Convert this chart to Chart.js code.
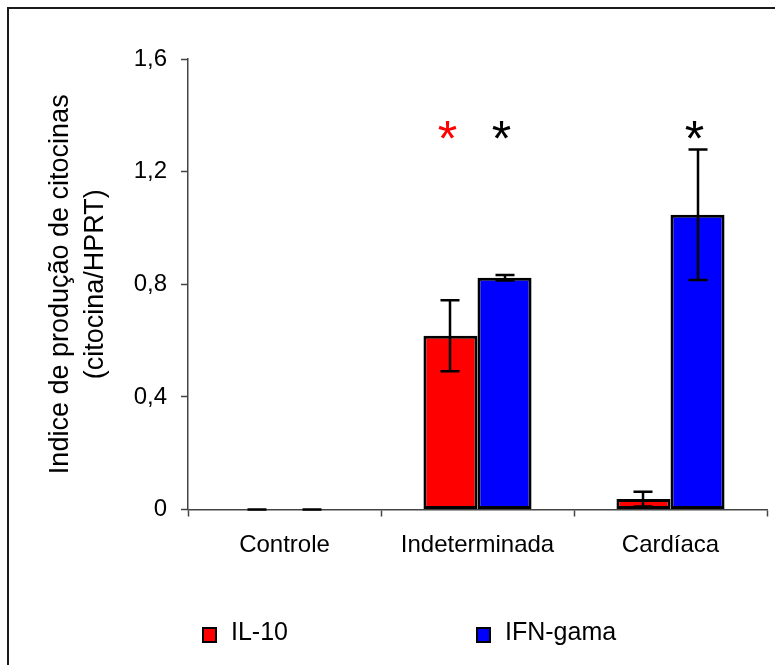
<!DOCTYPE html>
<html>
<head>
<meta charset="utf-8">
<script src="https://cdn.jsdelivr.net/npm/chart.js@4/dist/chart.umd.min.js"></script>
<style>
  html, body { margin: 0; padding: 0; background: #ffffff; }
  #wrap { position: relative; width: 775px; height: 665px; }
</style>
</head>
<body>
<div id="wrap"><canvas id="chart" width="775" height="665"></canvas></div>
<script>
// Cytokine production index (cytokine/HPRT) by clinical group
const categories = ['Controle', 'Indeterminada', 'Cardíaca'];
const il10Values = [0, 0.617, 0.037];
const il10Errors = [0, 0.126, 0.026];
const ifnValues = [0, 0.823, 1.047];
const ifnErrors = [0, 0.01, 0.232];
const yTickValues = [0, 0.4, 0.8, 1.2, 1.6];
// significance markers: [dataset index, category index, colour]
const significance = [[0, 1, '#ff0000'], [1, 1, '#000000'], [1, 2, '#000000']];
const markerLevel = 1.35;

const FONT = "'Liberation Sans', Arial, sans-serif";

// thin frame along the top and left edges of the figure
const framePlugin = {
  id: 'frame',
  beforeDraw(chart) {
    const ctx = chart.ctx;
    ctx.save();
    ctx.strokeStyle = '#1a1a1a';
    ctx.lineWidth = 2;
    ctx.beginPath();
    ctx.moveTo(8, chart.height);
    ctx.lineTo(8, 8);
    ctx.lineTo(chart.width, 8);
    ctx.stroke();
    ctx.restore();
  }
};

// error bars with caps, centred on each bar
const errorBarPlugin = {
  id: 'errorBars',
  afterDatasetsDraw(chart) {
    const ctx = chart.ctx;
    const yScale = chart.scales.y;
    ctx.save();
    ctx.strokeStyle = '#000000';
    ctx.lineWidth = 2.5;
    chart.data.datasets.forEach((ds, di) => {
      const meta = chart.getDatasetMeta(di);
      meta.data.forEach((bar, i) => {
        const v = ds.data[i];
        const e = ds.errors[i];
        const x = Math.round(bar.x);
        const yTop = yScale.getPixelForValue(v + e);
        const yBot = yScale.getPixelForValue(Math.max(0, v - e));
        const half = 9.5;
        ctx.beginPath();
        ctx.moveTo(x, yTop);
        ctx.lineTo(x, yBot);
        ctx.moveTo(x - half, yTop);
        ctx.lineTo(x + half, yTop);
        ctx.moveTo(x - half, yBot);
        ctx.lineTo(x + half, yBot);
        ctx.stroke();
      });
    });
    ctx.restore();
  }
};

// asterisks above the significant bars
const markerPlugin = {
  id: 'markers',
  afterDatasetsDraw(chart) {
    const ctx = chart.ctx;
    const yScale = chart.scales.y;
    const size = 50;
    ctx.save();
    ctx.font = size + 'px ' + FONT;
    ctx.textAlign = 'center';
    ctx.textBaseline = 'alphabetic';
    significance.forEach(([di, i, color]) => {
      const bar = chart.getDatasetMeta(di).data[i];
      ctx.fillStyle = color;
      ctx.fillText('*', bar.x - 3, yScale.getPixelForValue(markerLevel) + 0.54 * size);
    });
    ctx.restore();
  }
};

// legend row under the axis
const legendPlugin = {
  id: 'legendRow',
  afterDraw(chart) {
    const ctx = chart.ctx;
    const items = [[203, 0], [477, 1]];
    ctx.save();
    ctx.font = '25px ' + FONT;
    ctx.textBaseline = 'middle';
    ctx.textAlign = 'left';
    items.forEach(([x, di]) => {
      const ds = chart.data.datasets[di];
      ctx.fillStyle = ds.backgroundColor;
      ctx.fillRect(x, 628, 13, 14);
      ctx.strokeStyle = '#000000';
      ctx.lineWidth = 2;
      ctx.strokeRect(x, 628, 13, 14);
      ctx.fillStyle = '#000000';
      ctx.fillText(ds.label, x + 28, 633);
    });
    ctx.restore();
  }
};

new Chart(document.getElementById('chart'), {
  type: 'bar',
  data: {
    labels: categories,
    datasets: [
      {
        label: 'IL-10',
        data: il10Values,
        errors: il10Errors,
        backgroundColor: '#ff0000',
        borderColor: '#000000',
        borderWidth: 3,
        borderSkipped: false
      },
      {
        label: 'IFN-gama',
        data: ifnValues,
        errors: ifnErrors,
        backgroundColor: '#0000ff',
        borderColor: '#000000',
        borderWidth: 3,
        borderSkipped: false
      }
    ]
  },
  options: {
    responsive: false,
    animation: false,
    devicePixelRatio: 1,
    layout: { padding: { top: 59, right: 8, bottom: 95, left: 0 } },
    datasets: { bar: { categoryPercentage: 0.56, barPercentage: 1.0 } },
    plugins: {
      legend: { display: false },
      tooltip: { enabled: false }
    },
    scales: {
      x: {
        grid: { offset: true, drawOnChartArea: false, drawTicks: true, tickLength: 7, color: '#444444', tickWidth: 1.5 },
        border: { display: true, color: '#444444', width: 1.5 },
        ticks: { color: '#000000', font: { family: FONT, size: 24 }, padding: 14 },
        afterFit(scale) { scale.height = 665 - 95 - 509.5; }
      },
      y: {
        min: 0,
        max: 1.6,
        afterBuildTicks(scale) { scale.ticks = yTickValues.map(v => ({ value: v })); },
        grid: { drawOnChartArea: false, drawTicks: true, tickLength: 7, color: '#444444', tickWidth: 1.5 },
        border: { display: true, color: '#444444', width: 1.5 },
        ticks: {
          color: '#000000',
          font: { family: FONT, size: 24 },
          padding: 14,
          callback: v => String(v).replace('.', ',')
        },
        title: {
          display: true,
          text: ['Indice de produção de citocinas', '(citocina/HPRT)'],
          color: '#000000',
          font: { family: FONT, size: 27, lineHeight: 1.3 },
          padding: { top: 43, bottom: 0 }
        },
        afterFit(scale) { scale.width = 188; }
      }
    }
  },
  plugins: [framePlugin, errorBarPlugin, markerPlugin, legendPlugin]
});
</script>
</body>
</html>
